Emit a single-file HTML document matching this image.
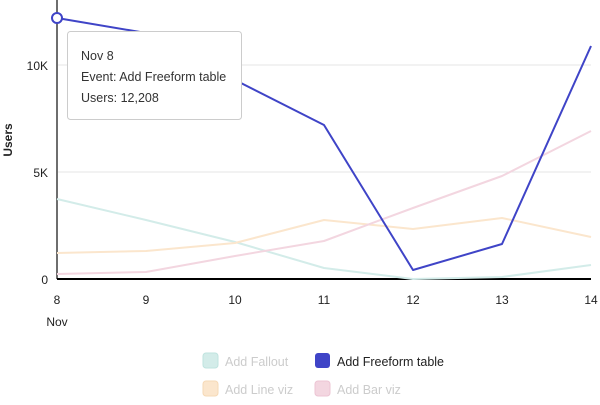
<!DOCTYPE html>
<html><head><style>
body{margin:0;background:#fff;font-family:"Liberation Sans",sans-serif;}
</style></head><body>
<svg width="600" height="400" xmlns="http://www.w3.org/2000/svg" font-family="Liberation Sans, sans-serif">
<line x1="57" y1="65" x2="591" y2="65" stroke="#e6e6e6"/>
<line x1="57" y1="172" x2="591" y2="172" stroke="#e6e6e6"/>
<line x1="57" y1="0" x2="57" y2="279" stroke="#6e6e6e" stroke-width="2"/>
<line x1="57" y1="279" x2="591" y2="279" stroke="#000" stroke-width="2"/>
<g font-size="12" fill="#222" text-anchor="end">
<text x="48" y="70">10K</text><text x="48" y="177">5K</text><text x="48" y="284">0</text></g>
<text transform="translate(12,140) rotate(-90)" font-size="12" font-weight="bold" text-anchor="middle" fill="#222">Users</text>
<g font-size="12" fill="#222" text-anchor="middle">
<text x="57" y="304">8</text><text x="146" y="304">9</text><text x="235" y="304">10</text><text x="324" y="304">11</text><text x="413" y="304">12</text><text x="502" y="304">13</text><text x="591" y="304">14</text>
<text x="57" y="326">Nov</text></g>
<g fill="none" stroke-width="2" stroke-linejoin="round">
<polyline stroke="#d3ece9" points="57,199 146,220 235,242 324,268 413,279 502,277 591,265"/>
<polyline stroke="#fbe6cd" points="57,253 146,251 235,243 324,220 413,229 502,218 591,237"/>
<polyline stroke="#f3d6e0" points="57,274 146,272 235,256 324,241 413,208 502,176 591,131"/>
<polyline stroke="#3f44c7" points="57,18 146,33 235,80 324,125 413,270 502,244 591,46"/>
</g>
<circle cx="57" cy="18" r="5" fill="#fff" stroke="#3f44c7" stroke-width="2"/>
<rect x="67.5" y="31.5" width="174" height="88" rx="3" fill="#fff" stroke="#ccc"/>
<g font-size="12.5" fill="#333"><text x="81" y="60">Nov 8</text><text x="81" y="81">Event: Add Freeform table</text><text x="81" y="102">Users: 12,208</text></g>
<rect x="203" y="353" width="15" height="15" rx="3" fill="#d3ece9" stroke="#bfe3df"/>
<text x="225" y="366" font-size="12.5" fill="#ccc">Add Fallout</text>
<rect x="315" y="353" width="15" height="15" rx="3" fill="#3f44c7"/>
<text x="337" y="366" font-size="12.5" fill="#222">Add Freeform table</text>
<rect x="203" y="381" width="15" height="15" rx="3" fill="#fbe6cd" stroke="#f6d9b6"/>
<text x="225" y="394" font-size="12.5" fill="#ccc">Add Line viz</text>
<rect x="315" y="381" width="15" height="15" rx="3" fill="#f3d6e0" stroke="#ecc4d3"/>
<text x="337" y="394" font-size="12.5" fill="#ccc">Add Bar viz</text>
</svg>
</body></html>
